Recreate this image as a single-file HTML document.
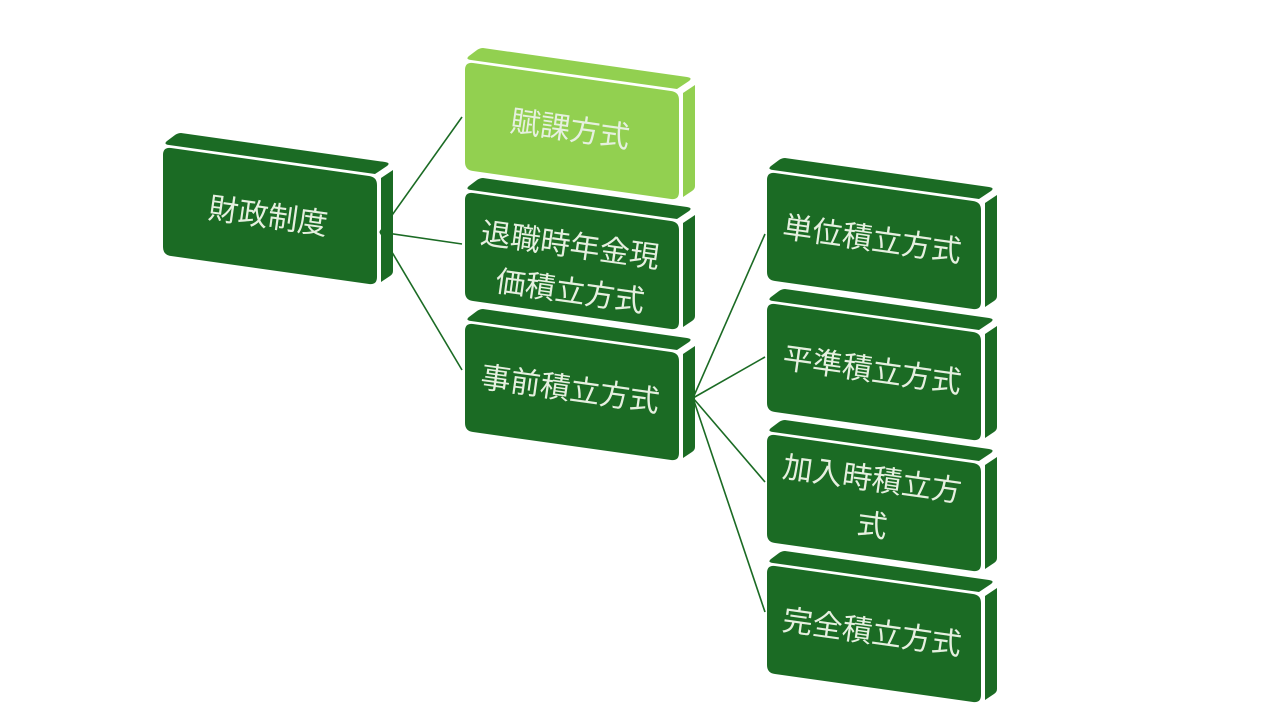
<!DOCTYPE html>
<html><head><meta charset="utf-8"><style>
body{margin:0;background:#fff;}
svg{display:block;}
text{font-family:"Liberation Sans","Noto Sans CJK JP",sans-serif;fill:#e6f0e0;font-size:30px;text-anchor:middle;dominant-baseline:central;}
</style></head><body>
<svg width="1280" height="720" viewBox="0 0 1280 720" xmlns="http://www.w3.org/2000/svg">
<g stroke="#1b6b24" stroke-width="1.6" fill="none">
<line x1="380" y1="232" x2="462" y2="117"/>
<line x1="380" y1="232" x2="462" y2="244"/>
<line x1="380" y1="232" x2="462" y2="370"/>
<line x1="693" y1="398" x2="765" y2="234"/>
<line x1="693" y1="398" x2="765" y2="357"/>
<line x1="693" y1="398" x2="765" y2="482"/>
<line x1="693" y1="398" x2="765" y2="612"/>
</g>
<defs>
<g id="box">
<path d="M18,-14 L222,15 Q228,16 224,19 L212,27 L6,-2 Q0,-3 4,-6 L12,-12 Q15,-14 18,-14 Z"/>
<path d="M218,31 L230,23 L230,124 Q230,127 227,129 L218,135 Z"/>
<path d="M8,1 L206,29 Q214,30 214,38 L214,130 Q214,138 206,137 L8,109 Q0,108 0,100 L0,8 Q0,0 8,1 Z"/>
</g>
</defs>
<g fill="#1b6b24">
<use href="#box" x="163" y="147"/>
<use href="#box" x="465" y="192"/>
<use href="#box" x="465" y="323"/>
<use href="#box" x="767" y="172"/>
<use href="#box" x="767" y="303"/>
<use href="#box" x="767" y="434"/>
<use href="#box" x="767" y="565"/>
</g>
<g fill="#92d050">
<use href="#box" x="465" y="62"/>
</g>
<text transform="translate(268,217) rotate(8)">財政制度</text>
<text transform="translate(570,130) rotate(8)">賦課方式</text>
<text transform="translate(570,246) rotate(8)">退職時年金現</text>
<text transform="translate(570,292) rotate(8)">価積立方式</text>
<text transform="translate(570,390) rotate(8)">事前積立方式</text>
<text transform="translate(872,240) rotate(8)">単位積立方式</text>
<text transform="translate(872,371) rotate(8)">平準積立方式</text>
<text transform="translate(872,480) rotate(8)">加入時積立方</text>
<text transform="translate(872,526) rotate(8)">式</text>
<text transform="translate(872,633) rotate(8)">完全積立方式</text>
</svg>
</body></html>
